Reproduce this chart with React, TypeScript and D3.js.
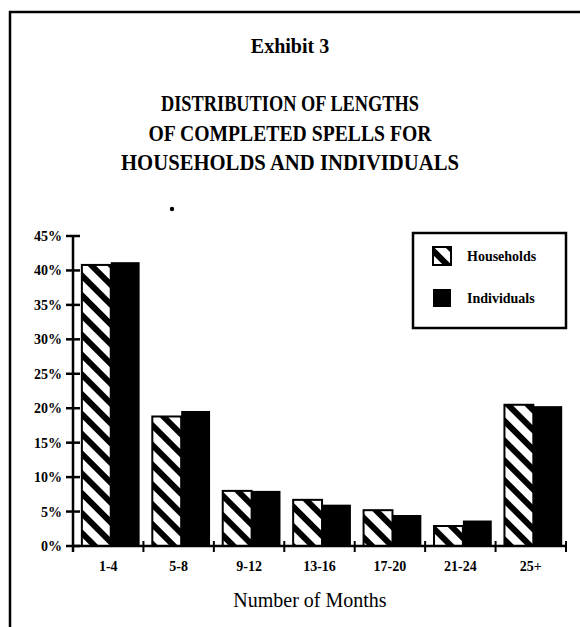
import * as d3 from 'd3';
import React, { useEffect, useRef } from 'react';

const categories = ['1-4', '5-8', '9-12', '13-16', '17-20', '21-24', '25+'];
const households = [40.8, 18.8, 8.0, 6.7, 5.2, 2.9, 20.5];
const individuals = [41.2, 19.6, 8.0, 6.0, 4.5, 3.7, 20.3];
const yTicks = [0, 5, 10, 15, 20, 25, 30, 35, 40, 45];
const seriesNames = ['Households', 'Individuals'];
const titleLines = ['DISTRIBUTION OF LENGTHS', 'OF COMPLETED SPELLS FOR', 'HOUSEHOLDS AND INDIVIDUALS'];
const titleWidths = [258, 283, 338];

const App = () => {
    const width = 580;
    const height = 627;
    const ref = useRef<SVGSVGElement>(null);

    useEffect(() => {
        const svg = d3.select(ref.current);
        svg.selectAll('*').remove();

        // hatch pattern for households
        const defs = svg.append('defs');
        defs.append('pattern')
            .attr('id', 'hatch')
            .attr('patternUnits', 'userSpaceOnUse')
            .attr('width', 14)
            .attr('height', 14)
            .attr('patternTransform', 'rotate(-45)')
            .call((p) => {
                p.append('rect').attr('width', 14).attr('height', 14).attr('fill', '#fff');
                p.append('rect').attr('x', 0).attr('width', 6).attr('height', 14).attr('fill', '#000');
            });

        // page frame (top + left only)
        svg.append('path')
            .attr('d', `M10,627 L10,12 L580,12`)
            .attr('fill', 'none')
            .attr('stroke', '#000')
            .attr('stroke-width', 2.5);

        svg.append('text')
            .attr('x', 290)
            .attr('y', 53)
            .attr('text-anchor', 'middle')
            .style('font-family', '"Liberation Serif", serif')
            .style('font-weight', 'bold')
            .style('font-size', '20px')
            .text('Exhibit 3');

        svg.selectAll('.title')
            .data(titleLines)
            .join('text')
            .attr('class', 'title')
            .attr('x', 290)
            .attr('y', (d, i) => 111 + i * 29.5)
            .attr('text-anchor', 'middle')
            .attr('textLength', (d, i) => titleWidths[i])
            .attr('lengthAdjust', 'spacingAndGlyphs')
            .style('font-family', '"Liberation Serif", serif')
            .style('font-weight', 'bold')
            .style('font-size', '23px')
            .text((d) => d);

        // stray dot in the scan
        svg.append('circle').attr('cx', 172).attr('cy', 209).attr('r', 2.2).attr('fill', '#000');

        const xScale = d3.scaleBand().domain(categories).range([73, 566]).paddingInner(0.18).paddingOuter(0.09).align(0.7);
        const sub = d3.scaleBand().domain(seriesNames).range([0, xScale.bandwidth()]);
        const yScale = d3.scaleLinear().domain([0, 45]).range([546, 236]);

        const chart = svg.append('g');

        categories.forEach((c, i) => {
            const x0 = xScale(c)!;
            chart.append('rect')
                .attr('x', x0 + sub('Households')!)
                .attr('y', yScale(households[i]))
                .attr('width', sub.bandwidth())
                .attr('height', yScale(0) - yScale(households[i]))
                .attr('fill', 'url(#hatch)')
                .attr('stroke', '#000')
                .attr('stroke-width', 2);
            chart.append('rect')
                .attr('x', x0 + sub('Individuals')!)
                .attr('y', yScale(individuals[i]))
                .attr('width', sub.bandwidth())
                .attr('height', yScale(0) - yScale(individuals[i]))
                .attr('fill', '#000');
        });

        // y axis
        const axisX = 73;
        chart.append('line')
            .attr('x1', axisX).attr('x2', axisX)
            .attr('y1', yScale(45)).attr('y2', yScale(0) + 6)
            .attr('stroke', '#000').attr('stroke-width', 2.5);
        chart.selectAll('.ytick')
            .data(yTicks)
            .join('line')
            .attr('class', 'ytick')
            .attr('x1', axisX - 7).attr('x2', axisX + 7)
            .attr('y1', (d) => yScale(d)).attr('y2', (d) => yScale(d))
            .attr('stroke', '#000').attr('stroke-width', 2.5);
        chart.selectAll('.ylabel')
            .data(yTicks)
            .join('text')
            .attr('class', 'ylabel')
            .attr('x', 62)
            .attr('y', (d) => yScale(d) + 5)
            .attr('text-anchor', 'end')
            .style('font-family', '"Liberation Serif", serif')
            .style('font-weight', 'bold')
            .style('font-size', '14px')
            .text((d) => `${d}%`);

        // x axis
        chart.append('line')
            .attr('x1', axisX).attr('x2', 566)
            .attr('y1', yScale(0)).attr('y2', yScale(0))
            .attr('stroke', '#000').attr('stroke-width', 2.5);
        const step = xScale.step();
        const bounds = categories.map((c, i) => 73 + step * (i + 1));
        chart.selectAll('.xtick')
            .data(bounds)
            .join('line')
            .attr('class', 'xtick')
            .attr('x1', (d) => d).attr('x2', (d) => d)
            .attr('y1', yScale(0) - 5).attr('y2', yScale(0) + 6)
            .attr('stroke', '#000').attr('stroke-width', 2);
        chart.selectAll('.xlabel')
            .data(categories)
            .join('text')
            .attr('class', 'xlabel')
            .attr('x', (d, i) => 73 + step * (i + 0.5))
            .attr('y', 571)
            .attr('text-anchor', 'middle')
            .style('font-family', '"Liberation Serif", serif')
            .style('font-weight', 'bold')
            .style('font-size', '14px')
            .text((d) => d);

        svg.append('text')
            .attr('x', 310)
            .attr('y', 607)
            .attr('text-anchor', 'middle')
            .style('font-family', '"Liberation Serif", serif')
            .style('font-size', '20px')
            .text('Number of Months');

        // legend
        const legend = svg.append('g');
        legend.append('rect')
            .attr('x', 413).attr('y', 233)
            .attr('width', 153).attr('height', 95)
            .attr('fill', '#fff').attr('stroke', '#000').attr('stroke-width', 2.5);
        seriesNames.forEach((s, i) => {
            const y = 247 + i * 42;
            legend.append('rect')
                .attr('x', 433).attr('y', y)
                .attr('width', 18).attr('height', 18)
                .attr('fill', i === 0 ? 'url(#hatch)' : '#000')
                .attr('stroke', '#000').attr('stroke-width', i === 0 ? 2 : 0);
            legend.append('text')
                .attr('x', 467).attr('y', y + 14)
                .style('font-family', '"Liberation Serif", serif')
                .style('font-weight', 'bold')
                .style('font-size', '14px')
                .text(s);
        });
    }, []);

    return (
        <svg ref={ref} width={width} height={height} style={{ position: 'absolute', left: 0, top: 0, background: '#fff' }}></svg>
    );
};

export default App;
